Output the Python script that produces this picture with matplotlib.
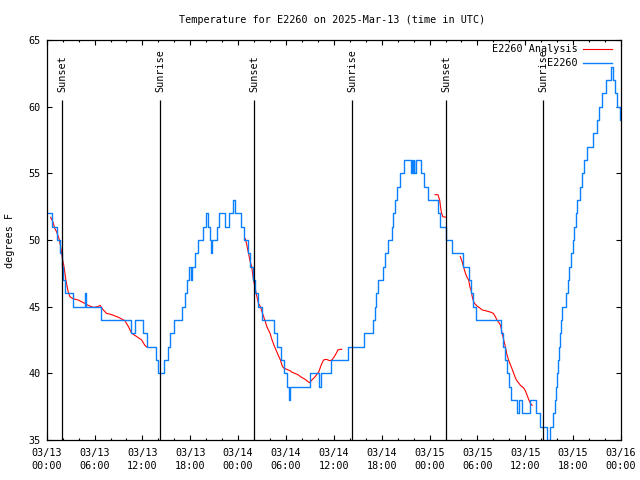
import numpy as np
import matplotlib.pyplot as plt
from matplotlib.ticker import MultipleLocator

# hours since 03/13 00:00 UTC
obs_hours = [0.2, 0.7, 1.25, 1.65, 1.9, 2.05, 2.3, 3.3, 4.8, 4.9, 6.8, 10.55, 11.1, 12.1, 12.55,
             13.75, 14.0, 14.7, 15.25, 15.45, 15.9, 16.9, 17.3, 17.55, 17.9, 18.05, 18.2, 18.6,
             18.95, 19.65, 19.95, 20.25, 20.45, 20.6, 20.75, 21.35, 21.6, 22.3, 22.85, 23.35,
             23.6, 24.35, 24.7, 25.25, 25.5, 25.85, 26.15, 26.5, 27.05, 28.5, 28.85, 29.35,
             29.75, 30.15, 30.4, 30.55, 33.0, 34.15, 34.35, 35.65, 37.8, 39.8, 40.9, 41.1, 41.3,
             41.5, 42.1, 42.45, 42.8, 43.3, 43.45, 43.7, 43.9, 44.25, 44.8, 45.65, 45.75, 45.9,
             46.0, 46.1, 46.25, 46.9, 47.3, 47.8, 49.0, 49.3, 50.0, 50.85, 52.15, 52.95, 53.15,
             53.4, 53.85, 56.9, 57.2, 57.45, 57.7, 57.95, 58.25, 59.0, 59.2, 59.65, 60.6, 61.3,
             61.9, 62.7, 63.1, 63.45, 63.75, 63.9, 64.0, 64.15, 64.25, 64.4, 64.5, 64.6, 65.05,
             65.3, 65.5, 65.75, 65.95, 66.1, 66.3, 66.5, 66.85, 67.1, 67.35, 67.7, 68.45, 68.95,
             69.25, 69.65, 70.15, 70.75, 70.95, 71.3, 71.55, 71.85, 72.0]
obs_temps = [52, 51, 50, 49, 48, 47, 46, 45, 46, 45, 44, 43, 44, 43, 42,
             41, 40, 41, 42, 43, 44, 45, 46, 47, 48, 47, 48, 49,
             50, 51, 52, 51, 50, 49, 50, 51, 52, 51, 52, 53,
             52, 51, 50, 49, 48, 47, 46, 45, 44, 43, 42, 41,
             40, 39, 38, 39, 40, 39, 40, 41, 42, 43, 44, 45, 46,
             47, 48, 49, 50, 51, 52, 53, 54, 55, 56, 55, 56, 55,
             56, 55, 56, 55, 54, 53, 52, 51, 50, 49, 48, 47, 46,
             45, 44, 43, 42, 41, 40, 39, 38, 37, 38, 37, 38, 37,
             36, 35, 36, 37, 38, 39, 40, 41, 42, 43, 44, 45, 46,
             47, 48, 49, 50, 51, 52, 53, 54, 55, 56, 57, 58, 59,
             60, 61, 62, 63, 62, 61, 60, 59, 59]

ana_hours = [0.5, 0.75, 1.0, 1.25, 1.55, 1.75, 2.0, 2.17, 2.4, 2.7, 2.9, 3.3, 3.95, 4.6, 5.2,
             5.85, 6.4, 6.7, 7.1, 7.5, 8.15, 9.0, 9.8, 10.25, 10.65, 11.3, 11.9, 12.3, 12.6,
             12.7,
             24.9, 25.1, 25.3, 25.5, 25.7, 25.9, 26.1, 26.3, 26.55, 26.8, 27.0, 27.2, 27.4, 27.6,
             27.8, 28.0, 28.2, 28.5, 28.75, 29.0, 29.3, 29.5, 29.7, 30.1, 30.5, 30.7, 31.1, 31.5,
             31.95, 32.4, 32.7, 32.95, 33.25, 33.65, 34.1, 34.4, 34.7, 35.05, 35.5, 35.75, 36.05,
             36.3, 36.5, 36.8, 37.0,
             37.1,
             48.7, 49.06, 49.15, 49.27, 49.35, 49.47, 49.65, 50.1,
             51.0,
             51.85, 52.07, 52.3, 52.5, 52.7, 52.9, 53.05, 53.2, 53.35, 53.5, 53.7, 53.95, 54.3,
             54.6, 55.0, 55.6, 56.0, 56.25, 56.45, 56.7, 56.9, 57.1, 57.3, 57.5, 57.7, 57.9, 58.1,
             58.3, 58.55, 58.8, 59.0, 59.4, 59.8, 60.0, 60.2, 60.45, 60.65, 60.85]
ana_temps = [51.7, 51.4, 50.9, 50.6, 50.1, 49.5, 48.5, 48.0, 47.0, 46.1, 45.75, 45.6, 45.5, 45.3,
             45.1, 44.95, 45.0, 45.1, 44.75, 44.5, 44.4, 44.2, 43.95, 43.5, 43.0, 42.75, 42.5,
             42.1, 41.95,
             np.nan,
             50.1, 49.6, 49.0, 48.4, 48.0, 47.1, 46.5, 45.9, 45.25, 45.0, 44.6, 44.25, 43.9, 43.5,
             43.25, 43.0, 42.6, 42.1, 41.75, 41.4, 41.0, 40.6, 40.4, 40.3, 40.2, 40.1, 40.0, 39.9,
             39.7, 39.55, 39.4, 39.3, 39.5, 39.75, 40.1, 40.6, 41.0, 41.05, 40.95, 41.0, 41.25,
             41.5, 41.75, 41.8, 41.8,
             np.nan,
             53.4, 53.4, 53.2, 53.0, 52.6, 52.1, 51.75, 51.7,
             np.nan,
             48.75, 48.4, 47.9, 47.5, 47.2, 47.0, 46.5, 46.25, 45.75, 45.4, 45.2, 45.05, 44.9,
             44.75, 44.7, 44.6, 44.5, 44.25, 44.0, 43.8, 43.6, 43.0, 42.5, 42.0, 41.4, 41.0, 40.7,
             40.4, 40.0, 39.6, 39.4, 39.1, 38.9, 38.7, 38.4, 38.0, 37.75, 37.6]

sun_hours = [1.96, 14.25, 26.04, 38.3, 50.12, 62.27]
sun_names = ['Sunset', 'Sunrise', 'Sunset', 'Sunrise', 'Sunset', 'Sunrise']

tick_labels = ['03/13\n00:00', '03/13\n06:00', '03/13\n12:00', '03/13\n18:00',
               '03/14\n00:00', '03/14\n06:00', '03/14\n12:00', '03/14\n18:00',
               '03/15\n00:00', '03/15\n06:00', '03/15\n12:00', '03/15\n18:00',
               '03/16\n00:00']

plt.rcParams['font.family'] = ['DejaVu Sans Mono']
plt.rcParams['font.size'] = 7.3

fig = plt.figure(figsize=(6.4, 4.8), dpi=100)
ax = fig.add_axes([46.7 / 640, 40 / 480, (621 - 46.7) / 640, 400 / 480])

ax.plot(ana_hours, ana_temps, color='#ff0000', lw=0.8)
ax.step(obs_hours, obs_temps, where='post', color='#0a80ff', lw=1.0)

# sunrise / sunset markers
ax.vlines(sun_hours, 35, 60.5, color='black', lw=0.9, zorder=3)
for h, name in zip(sun_hours, sun_names):
    ax.text(h, 61.1, name, rotation=90, ha='center', va='bottom')

ax.set_xlim(0, 72)
ax.set_ylim(35, 65)
ax.set_xticks(np.arange(0, 73, 6))
ax.set_xticklabels(tick_labels, linespacing=1.35)
ax.xaxis.set_minor_locator(MultipleLocator(2))
ax.set_yticks(np.arange(35, 66, 5))
ax.tick_params(which='both', direction='in', top=True, right=True, width=0.8)
ax.tick_params(which='major', length=3.3)
ax.tick_params(which='minor', length=1.7)
ax.tick_params(axis='x', pad=6)
ax.tick_params(axis='y', pad=4.5)
for s in ax.spines.values():
    s.set_linewidth(0.9)

# key, gnuplot style: text right-aligned, sample on the right
ax.text(0.924, 0.9775, 'E2260 Analysis', transform=ax.transAxes, ha='right', va='center')
ax.plot([0.934, 0.984], [0.9775, 0.9775], transform=ax.transAxes, color='#ff0000', lw=0.8)
ax.text(0.924, 0.9425, 'E2260', transform=ax.transAxes, ha='right', va='center')
ax.plot([0.934, 0.984], [0.9425, 0.9425], transform=ax.transAxes, color='#0a80ff', lw=1.0)

fig.text(332 / 640, 1 - 20 / 480, 'Temperature for E2260 on 2025-Mar-13 (time in UTC)',
         ha='center', va='center')
fig.text(10 / 640, 0.5, 'degrees F', rotation=90, ha='center', va='center')

fig.savefig('out.png', dpi=100)
